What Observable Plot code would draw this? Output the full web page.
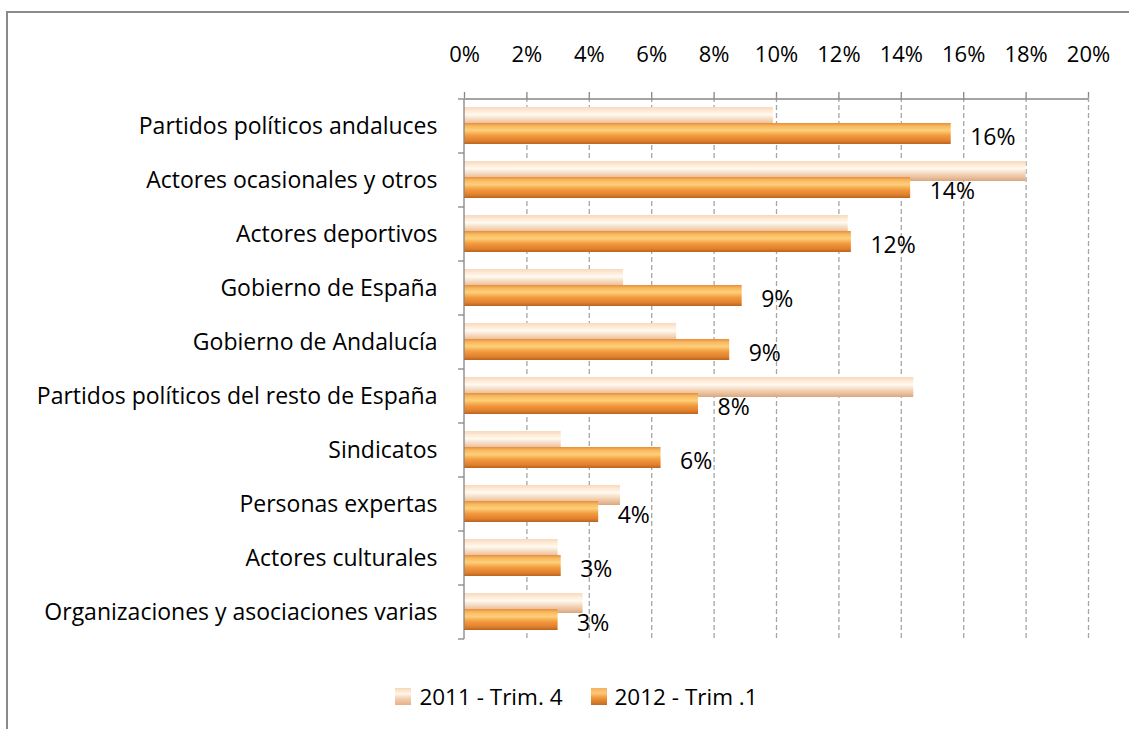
<!DOCTYPE html>
<html>
<head>
<meta charset="utf-8">
<script src="https://cdn.jsdelivr.net/npm/d3@7"></script>
<script src="https://cdn.jsdelivr.net/npm/@observablehq/plot@0.6"></script>
<style>
  html, body { margin: 0; padding: 0; background: #fff; }
  body { width: 1129px; height: 729px; position: relative; overflow: hidden; font-family: "Open Sans", Lato, sans-serif; }
  #frame { position: absolute; left: 6px; top: 11px; width: 1200px; height: 800px; border-left: 2px solid #8a8a8a; border-top: 2px solid #8a8a8a; pointer-events: none; }
  #chart { position: absolute; left: 0; top: 0; }
  #legend { position: absolute; top: 681px; left: 0; width: 1129px; display: flex; justify-content: center; align-items: center; font-size: 22.5px; color: #000; padding-left: 24px; box-sizing: border-box; }
  .item { display: flex; align-items: center; margin: 0 14px; }
  .sw { width: 16px; height: 17px; margin-right: 8px; }
  .sw.light { background: linear-gradient(#f6d6b8, #fff6ea 35%, #f3d2b2 60%, #e3b08a); }
  .sw.orange { background: linear-gradient(#f5b060, #fcc878 30%, #ef9436 60%, #c46a24); }
</style>
</head>
<body>
<div id="chart"></div>
<div id="frame"></div>
<div id="legend">
  <div class="item"><div class="sw light"></div><span>2011 - Trim. 4</span></div>
  <div class="item"><div class="sw orange"></div><span>2012 - Trim .1</span></div>
</div>
<script>
const categories = [
  "Partidos políticos andaluces",
  "Actores ocasionales y otros",
  "Actores deportivos",
  "Gobierno de España",
  "Gobierno de Andalucía",
  "Partidos políticos del resto de España",
  "Sindicatos",
  "Personas expertas",
  "Actores culturales",
  "Organizaciones y asociaciones varias"
];
const values2011 = [9.9, 18.0, 12.3, 5.1, 6.8, 14.4, 3.1, 5.0, 3.0, 3.8];
const values2012 = [15.6, 14.3, 12.4, 8.9, 8.5, 7.5, 6.3, 4.3, 3.1, 3.0];
const xTicks = [0, 2, 4, 6, 8, 10, 12, 14, 16, 18, 20];
const seriesNames = ["2011 - Trim. 4", "2012 - Trim .1"];

const data = categories.map((c, i) => ({cat: c, v2011: values2011[i], v2012: values2012[i]}));

// custom mark: axis lines and category boundary ticks, from the plot's own scales
function axisLines(index, scales) {
  const {x, y} = scales;
  const bw = typeof y.bandwidth === "function" ? y.bandwidth() : y.bandwidth;
  const g = d3.create("svg:g").attr("stroke", "#868686").attr("stroke-width", 1.3);
  const x0 = x(0), x1 = x(20);
  const yTop = y(categories[0]);
  const yBot = y(categories[categories.length - 1]) + bw;
  g.append("line").attr("x1", x0).attr("x2", x1).attr("y1", yTop).attr("y2", yTop);
  g.append("line").attr("x1", x0).attr("x2", x0).attr("y1", yTop).attr("y2", yBot);
  const bounds = categories.map(c => y(c)).concat([yBot]);
  for (const b of bounds) {
    g.append("line").attr("x1", x0 - 6).attr("x2", x0).attr("y1", b).attr("y2", b);
  }
  return g.node();
}

const plot = Plot.plot({
  width: 1129,
  height: 660,
  marginTop: 97,
  marginBottom: 20,
  marginLeft: 464,
  marginRight: 41,
  style: {fontSize: "23px", fontFamily: "'Open Sans', Lato, sans-serif", color: "#000", background: "transparent", overflow: "visible"},
  x: {domain: [0, 20], axis: "top", ticks: xTicks, tickFormat: d => d + "%", tickSize: 6, tickPadding: 30, label: null, fontSize: 22},
  y: {domain: categories, padding: 0, tickSize: 0, tickPadding: 27, label: null},
  marks: [
    Plot.ruleX(xTicks.slice(1), {stroke: "#a6a6a6", strokeWidth: 1.3, strokeDasharray: "5,3"}),
    Plot.barX(data, {x1: 0, x2: "v2011", y: "cat", insetTop: 8, insetBottom: 26, fill: "url(#glight)", ariaLabel: "bar-light"}),
    Plot.barX(data, {x1: 0, x2: "v2012", y: "cat", insetTop: 24, insetBottom: 9, fill: "url(#gorange)", ariaLabel: "bar-orange"}),
    axisLines,
    Plot.text(data, {x: "v2012", y: "cat", text: d => Math.round(d.v2012) + "%", dx: 19, dy: 11, textAnchor: "start", fontSize: 23, fill: "#000"})
  ]
});

const svg = d3.select(plot);
const defs = svg.insert("defs", ":first-child");
const gl = defs.append("linearGradient").attr("id", "glight").attr("x1", 0).attr("y1", 0).attr("x2", 0).attr("y2", 1);
[[0, "#f7d9bd"], [0.18, "#fde9d4"], [0.38, "#fffaf0"], [0.6, "#f6dcc2"], [0.85, "#e8bb96"], [1, "#d9a67f"]]
  .forEach(([o, c]) => gl.append("stop").attr("offset", o).attr("stop-color", c));
const go = defs.append("linearGradient").attr("id", "gorange").attr("x1", 0).attr("y1", 0).attr("x2", 0).attr("y2", 1);
[[0, "#e98c3a"], [0.15, "#f8b85f"], [0.35, "#fdd07a"], [0.6, "#f29a3e"], [0.85, "#e07f2c"], [1, "#b8631f"]]
  .forEach(([o, c]) => go.append("stop").attr("offset", o).attr("stop-color", c));
const f = defs.append("filter").attr("id", "shadow").attr("x", "-5%").attr("y", "-30%").attr("width", "115%").attr("height", "190%");
f.append("feDropShadow").attr("dx", 2).attr("dy", 3).attr("stdDeviation", 2).attr("flood-color", "#000").attr("flood-opacity", 0.28);
svg.selectAll('[aria-label="bar-light"], [aria-label="bar-orange"]').attr("filter", "url(#shadow)");
svg.selectAll('[aria-label="x-axis tick"]').attr("stroke", "#868686").attr("stroke-width", 1.3);
svg.selectAll('[aria-label="x-axis tick label"]').attr("font-size", 22);

document.getElementById("chart").appendChild(plot);
</script>
</body>
</html>
